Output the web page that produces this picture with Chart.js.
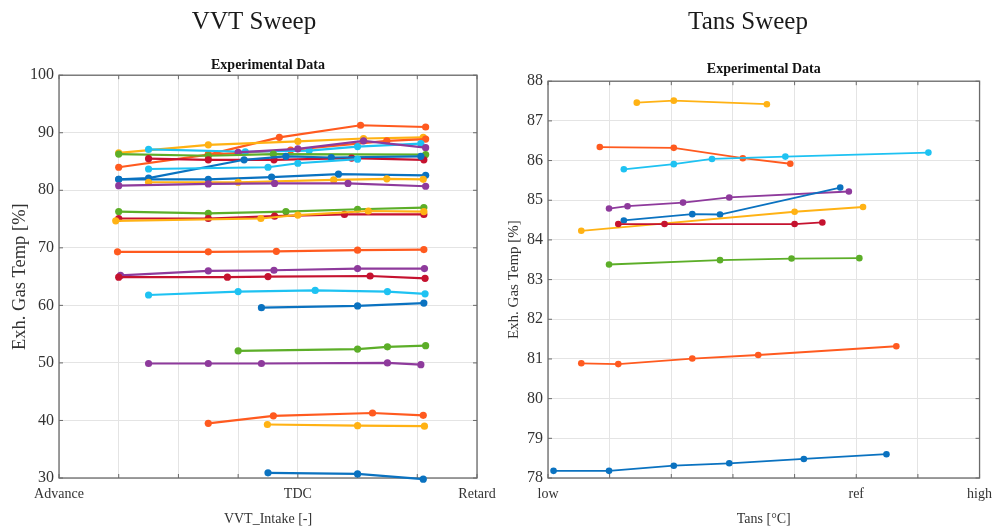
<!DOCTYPE html>
<html>
<head>
<meta charset="utf-8">
<script src="https://cdn.jsdelivr.net/npm/chart.js@4"></script>
<style>
  body { margin: 0; background: #fff; width: 1008px; height: 530px; overflow: hidden; position: relative; }
  .panel { position: absolute; top: 0; height: 530px; }
</style>
</head>
<body>
<div class="panel" style="left:0;width:508px"><canvas id="vvtChart" width="508" height="530"></canvas></div>
<div class="panel" style="left:496px;width:504px"><canvas id="tansChart" width="504" height="530"></canvas></div>
<script>
// line colours (MATLAB-style order)
const BLUE = "#0a72c0", ORANGE = "#ff5a1f", YELLOW = "#ffb214", PURPLE = "#8e3a9c",
      GREEN = "#5cae28", CYAN = "#1ec2f2", RED = "#c5122f";

// tick labels
const vvtTicks = ["Advance", "", "", "", "TDC", "", "", "Retard"];
const tansTicks = ["low", "", "", "", "", "ref", "", "high"];

// VVT sweep: [VVT position, exh. gas temp %]
const vvtOrange1 = [[1, 84.0], [2.5, 86.2], [3.69, 89.2], [5.05, 91.3], [6.14, 91.0]];
const vvtOrange2 = [[2.5, 86.2], [3.88, 87.0], [5.49, 88.6], [6.14, 88.9]];
const vvtYellow1 = [[1, 86.5], [2.5, 87.9], [4.0, 88.5], [5.1, 89.0], [6.1, 89.2]];
const vvtGreen1 = [[1, 86.3], [2.5, 86.0], [3.59, 86.3], [6.14, 86.2]];
const vvtCyan1 = [[1.5, 87.1], [3.12, 86.7], [4.19, 86.9], [5.0, 87.6], [6.06, 88.1]];
const vvtPurple1 = [[3.0, 86.6], [4.0, 87.2], [5.1, 88.6], [6.14, 87.4]];
const vvtRed1 = [[1.5, 85.5], [2.5, 85.3], [3.6, 85.3], [4.9, 85.6], [6.11, 85.3]];
const vvtBlue1 = [[1, 81.9], [1.5, 82.1], [3.1, 85.3], [3.8, 85.9], [4.56, 85.7], [6.06, 85.9]];
const vvtCyan2 = [[1.5, 83.7], [3.5, 84.0], [4.0, 84.7], [5.0, 85.4]];
const vvtBlue2 = [[1, 81.9], [2.5, 81.9], [3.56, 82.3], [4.68, 82.8], [6.14, 82.6]];
const vvtYellow2 = [[1.5, 81.4], [3.0, 81.4], [4.6, 81.8], [5.49, 82.0], [6.1, 81.9]];
const vvtPurple2 = [[1, 80.8], [2.5, 81.1], [3.61, 81.2], [4.84, 81.2], [6.14, 80.7]];
const vvtGreen2 = [[1, 76.3], [2.5, 76.0], [3.8, 76.3], [5.0, 76.7], [6.11, 77.0]];
const vvtYellow3 = [[0.95, 74.7], [3.38, 75.1], [4.0, 75.7], [5.18, 76.4], [6.11, 76.3]];
const vvtRed2 = [[1, 75.1], [2.5, 75.1], [3.61, 75.5], [4.78, 75.8], [6.11, 75.8]];
const vvtOrange3 = [[0.98, 69.3], [2.5, 69.3], [3.64, 69.4], [5.0, 69.6], [6.11, 69.7]];
const vvtPurple3 = [[1.03, 65.2], [2.5, 66.0], [3.6, 66.1], [5.0, 66.4], [6.12, 66.4]];
const vvtRed3 = [[1, 64.9], [2.82, 64.9], [3.5, 65.0], [5.21, 65.1], [6.13, 64.7]];
const vvtCyan3 = [[1.5, 61.8], [3.0, 62.4], [4.29, 62.6], [5.5, 62.4], [6.13, 62.0]];
const vvtBlue3 = [[3.39, 59.6], [5.0, 59.9], [6.11, 60.4]];
const vvtGreen3 = [[3.0, 52.1], [5.0, 52.4], [5.5, 52.8], [6.14, 53.0]];
const vvtPurple4 = [[1.5, 49.9], [2.5, 49.9], [3.39, 49.9], [5.5, 50.0], [6.06, 49.7]];
const vvtOrange4 = [[2.5, 39.5], [3.59, 40.8], [5.25, 41.3], [6.1, 40.9]];
const vvtYellow4 = [[3.49, 39.3], [5.0, 39.1], [6.12, 39.0]];
const vvtBlue4 = [[3.5, 30.9], [5.0, 30.7], [6.1, 29.8]];

// Tans sweep: [Tans position, exh. gas temp %]
const tansYellow1 = [[1.44, 87.46], [2.04, 87.51], [3.55, 87.42]];
const tansOrange1 = [[0.84, 86.34], [2.04, 86.32], [3.16, 86.06], [3.93, 85.92]];
const tansCyan1 = [[1.23, 85.78], [2.04, 85.91], [2.66, 86.04], [3.85, 86.1], [6.17, 86.2]];
const tansPurple1 = [[0.99, 84.79], [1.29, 84.85], [2.19, 84.94], [2.94, 85.07], [4.88, 85.22]];
const tansBlue1 = [[1.23, 84.49], [2.34, 84.65], [2.79, 84.64], [4.74, 85.32]];
const tansYellow2 = [[0.54, 84.23], [4.0, 84.71], [5.11, 84.83]];
const tansRed1 = [[1.14, 84.4], [1.89, 84.4], [4.0, 84.4], [4.45, 84.44]];
const tansGreen1 = [[0.99, 83.38], [2.79, 83.49], [3.95, 83.53], [5.05, 83.54]];
const tansOrange2 = [[0.54, 80.89], [1.14, 80.87], [2.34, 81.01], [3.41, 81.1], [5.65, 81.32]];
const tansBlue2 = [[0.09, 78.18], [0.99, 78.18], [2.04, 78.31], [2.94, 78.37], [4.15, 78.48], [5.49, 78.6]];

const FONT = "'Liberation Serif', 'DejaVu Serif', serif";

function series(points, color, width, radius) {
  return {
    data: points.map(p => ({ x: p[0], y: p[1] })),
    borderColor: color,
    backgroundColor: color,
    borderWidth: width,
    pointRadius: radius,
    pointHoverRadius: radius,
    pointBorderWidth: 0,
    tension: 0,
    clip: false,
  };
}

// axes box with small inward ticks
const boxFrame = {
  id: "boxFrame",
  beforeDatasetsDraw(chart) {
    const { ctx, chartArea: a, scales } = chart;
    ctx.save();
    ctx.strokeStyle = "#6a6a6a";
    ctx.lineWidth = 1.3;
    ctx.strokeRect(a.left, a.top, a.right - a.left, a.bottom - a.top);
    ctx.lineWidth = 1;
    ctx.beginPath();
    scales.x.ticks.forEach(t => {
      const px = scales.x.getPixelForValue(t.value);
      ctx.moveTo(px, a.bottom); ctx.lineTo(px, a.bottom - 4);
      ctx.moveTo(px, a.top); ctx.lineTo(px, a.top + 4);
    });
    scales.y.ticks.forEach(t => {
      const py = scales.y.getPixelForValue(t.value);
      ctx.moveTo(a.left, py); ctx.lineTo(a.left + 4, py);
      ctx.moveTo(a.right, py); ctx.lineTo(a.right - 4, py);
    });
    ctx.stroke();
    ctx.restore();
  },
};

function makeChart(id, cfg) {
  return new Chart(document.getElementById(id), {
    type: "line",
    data: { datasets: cfg.datasets },
    options: {
      responsive: false,
      animation: false,
      events: [],
      layout: { padding: 0 },
      plugins: {
        legend: { display: false },
        tooltip: { enabled: false },
        title: {
          display: true,
          text: cfg.title,
          color: "#1a1a1a",
          font: { family: FONT, size: 25, weight: "normal" },
          padding: { top: 7, bottom: cfg.titleGap },
        },
        subtitle: {
          display: true,
          fullSize: false,
          text: "Experimental Data",
          color: "#111",
          font: { family: FONT, size: 14, weight: "bold" },
          padding: { top: 0, bottom: cfg.subGap },
        },
      },
      scales: {
        x: {
          type: "linear",
          min: 0,
          max: 7,
          afterFit: s => { s.height = 52; },
          grid: { color: "#e4e4e4", drawTicks: false },
          border: { display: false },
          ticks: {
            stepSize: 1,
            padding: 8,
            maxRotation: 0,
            autoSkip: false,
            color: "#333",
            font: { family: FONT, size: 14 },
            callback: v => cfg.xTicks[v],
          },
          title: {
            display: true,
            text: cfg.xTitle,
            color: "#333",
            font: { family: FONT, size: 14 },
            padding: { top: 0, bottom: 2 },
          },
        },
        y: {
          min: cfg.yMin,
          max: cfg.yMax,
          afterFit: s => { s.width = cfg.yWidth; },
          grid: { color: "#e4e4e4", drawTicks: false },
          border: { display: false },
          ticks: {
            stepSize: cfg.yStep,
            padding: 5,
            color: "#333",
            font: { family: FONT, size: 16 },
          },
          title: {
            display: true,
            text: "Exh. Gas Temp [%]",
            color: "#333",
            font: { family: FONT, size: cfg.yTitleSize },
            padding: { top: 9, bottom: 0 },
          },
        },
        // empty right-hand strip, keeps room for the last x label
        yRight: {
          position: "right",
          min: cfg.yMin,
          max: cfg.yMax,
          afterFit: s => { s.width = cfg.rightGap; },
          grid: { display: false },
          border: { display: false },
          ticks: { display: false },
        },
      },
    },
    plugins: [boxFrame],
  });
}

const vvtDatasets = [
  [vvtBlue4, BLUE], [vvtYellow4, YELLOW], [vvtOrange4, ORANGE], [vvtPurple4, PURPLE],
  [vvtGreen3, GREEN], [vvtBlue3, BLUE], [vvtCyan3, CYAN], [vvtRed3, RED],
  [vvtPurple3, PURPLE], [vvtOrange3, ORANGE], [vvtYellow3, YELLOW], [vvtRed2, RED],
  [vvtGreen2, GREEN], [vvtPurple2, PURPLE], [vvtYellow2, YELLOW], [vvtBlue2, BLUE],
  [vvtCyan2, CYAN], [vvtBlue1, BLUE], [vvtRed1, RED], [vvtGreen1, GREEN],
  [vvtPurple1, PURPLE], [vvtCyan1, CYAN], [vvtOrange2, ORANGE], [vvtYellow1, YELLOW],
  [vvtOrange1, ORANGE],
].map(([pts, c]) => series(pts, c, 2.2, 3.6));

const tansDatasets = [
  [tansBlue2, BLUE], [tansOrange2, ORANGE], [tansGreen1, GREEN], [tansRed1, RED],
  [tansYellow2, YELLOW], [tansBlue1, BLUE], [tansPurple1, PURPLE], [tansCyan1, CYAN],
  [tansOrange1, ORANGE], [tansYellow1, YELLOW],
].map(([pts, c]) => series(pts, c, 1.8, 3.3));

makeChart("vvtChart", {
  datasets: vvtDatasets,
  title: "VVT Sweep",
  titleGap: 19.8,
  subGap: 1.6,
  rightGap: 31,
  xTicks: vvtTicks,
  xTitle: "VVT_Intake [-]",
  yMin: 30, yMax: 100, yStep: 10,
  yWidth: 59,
  yTitleSize: 18.5,
});

makeChart("tansChart", {
  datasets: tansDatasets,
  title: "Tans Sweep",
  titleGap: 23.8,
  subGap: 3.6,
  rightGap: 17,
  xTicks: tansTicks,
  xTitle: "Tans [°C]",
  yMin: 78, yMax: 88, yStep: 1,
  yWidth: 52,
  yTitleSize: 15,
});
</script>
</body>
</html>
